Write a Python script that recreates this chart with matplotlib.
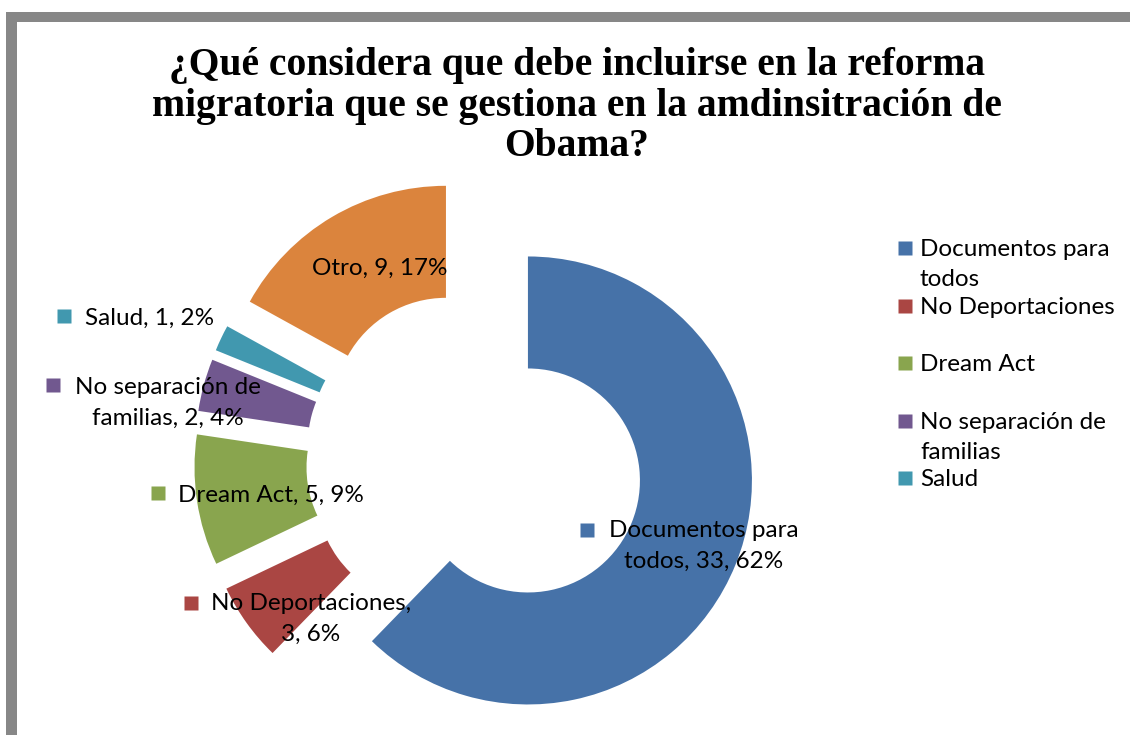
import matplotlib.pyplot as plt
from matplotlib.patches import Rectangle

# survey answers (count per option), clockwise from 12 o'clock
categories = ["Documentos para todos", "No Deportaciones", "Dream Act",
              "No separación de familias", "Salud", "Otro"]
counts = [33, 3, 5, 2, 1, 9]
colors = ["#4672A8", "#AA4643", "#89A54E", "#71588F", "#4198AF", "#DB843D"]

# legend in the original is cut off after "Salud"
legend_labels = ["Documentos para\ntodos", "No Deportaciones", "Dream Act",
                 "No separación de\nfamilias", "Salud"]

title = ("¿Qué considera que debe incluirse en la reforma\n"
         "migratoria que se gestiona en la amdinsitración de\nObama?")

W, H = 1130, 735
LABEL_FONT = "Lato"
FS = 17.5


def Y(py):
    # pixel row (from top) -> data y
    return H - py


fig = plt.figure(figsize=(W / 100, H / 100), dpi=100)
ax = fig.add_axes([0, 0, 1, 1])

R = 224
total = sum(counts)
pcts = [round(100 * c / total) for c in counts]
ax.pie(counts, colors=colors, center=(475, Y(459)), radius=R,
       startangle=90, counterclock=False, explode=[0.255 * R] * len(counts),
       wedgeprops=dict(width=R / 2, linewidth=0), frame=True)
ax.set_xlim(0, W)
ax.set_ylim(0, H)
ax.set_aspect("auto")
ax.axis("off")

# grey frame on top and left edge
ax.add_patch(Rectangle((6, Y(22)), W, 10, color="#878787", lw=0))
ax.add_patch(Rectangle((6, 0), 11, Y(12), color="#878787", lw=0))

ax.text(577, Y(106), title, ha="center", va="center", fontsize=28.5,
        fontweight="bold", family="Liberation Serif", linespacing=1.12)

# data labels: text centre in pixels
label_pos = [(704, 546), (311, 619), (271, 495),
             (168, 403), (150, 318), (380, 268)]
for i, (x, y) in enumerate(label_pos):
    name = categories[i]
    if i == 0:
        txt = f"Documentos para\ntodos, {counts[i]}, {pcts[i]}%"
    elif i == 1:
        txt = f"No Deportaciones,\n{counts[i]}, {pcts[i]}%"
    elif i == 3:
        txt = f"No separación de\nfamilias, {counts[i]}, {pcts[i]}%"
    else:
        txt = f"{name}, {counts[i]}, {pcts[i]}%"
    ax.text(x, Y(y), txt, ha="center", va="center", fontsize=FS,
            family=LABEL_FONT, linespacing=1.55)

# square keys in front of labels
key_pos = [(587, 530), (191, 603), (158, 493), (53, 385), (64, 316)]
for i, (x, y) in enumerate(key_pos):
    ax.plot(x, Y(y), marker="s", ms=10.5, color=colors[i], mec="none")

# legend
for i, lab in enumerate(legend_labels):
    y = 248 + i * 57.5
    ax.plot(905, Y(y), marker="s", ms=10.5, color=colors[i], mec="none")
    ax.text(920, Y(y - 9), lab, ha="left", va="top", fontsize=FS,
            family=LABEL_FONT, linespacing=1.55)

fig.savefig("out.png", dpi=100)
